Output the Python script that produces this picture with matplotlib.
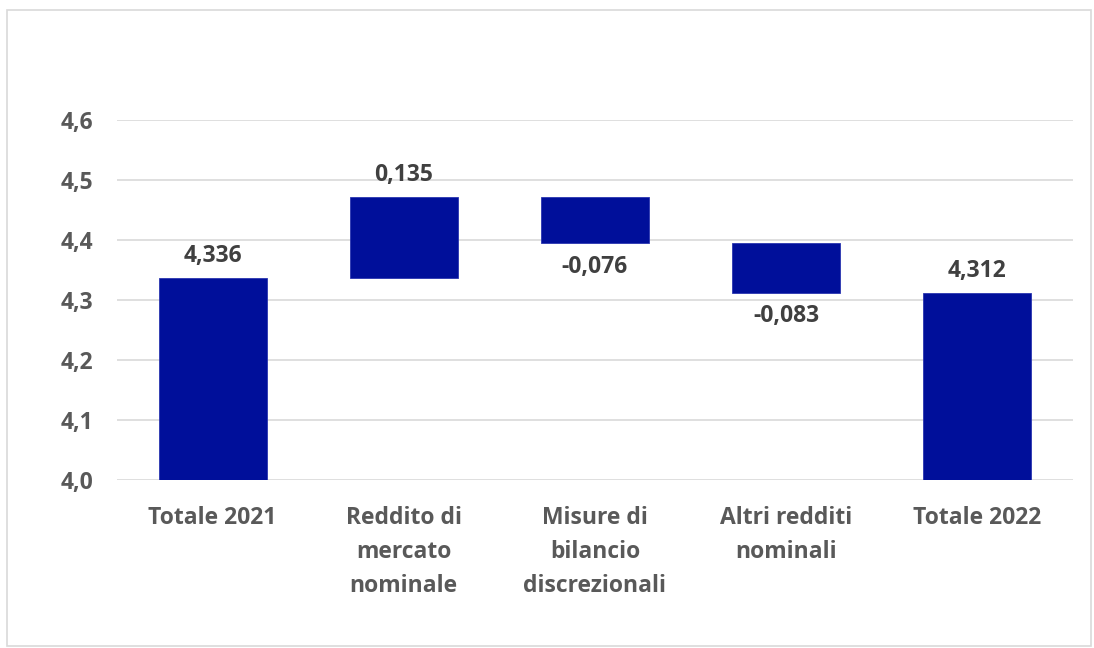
import numpy as np
import matplotlib
matplotlib.use('Agg')
import matplotlib.pyplot as plt
from matplotlib.patches import Rectangle

categorie = ['Totale 2021', 'Reddito di\nmercato\nnominale', 'Misure di\nbilancio\ndiscrezionali',
             'Altri redditi\nnominali', 'Totale 2022']
valori = [4.336, 0.135, -0.076, -0.083, 4.312]
etichette = ['4,336', '0,135', '-0,076', '-0,083', '4,312']
totale = [True, False, False, False, True]

plt.rcParams['font.family'] = ['Open Sans', 'DejaVu Sans']
plt.rcParams['font.weight'] = 'bold'

grigio = '#595959'
blu = '#000F9A'

fig = plt.figure(figsize=(10.94, 6.48), dpi=100)
ax = fig.add_axes([117 / 1094, 1 - 480 / 648, (1073 - 117) / 1094, (480 - 120) / 648])

# waterfall: basi e altezze
basi = []
altezze = []
cum = 0.0
for v, t in zip(valori, totale):
    if t:
        basi.append(0.0)
        altezze.append(v)
        cum = v
    else:
        if v >= 0:
            basi.append(cum)
        else:
            basi.append(cum + v)
        altezze.append(abs(v))
        cum += v

x = np.arange(len(categorie))
ax.bar(x, altezze, bottom=basi, width=0.565, color=blu, edgecolor='#2a35b0', linewidth=0.6, zorder=3)

for i, (v, t) in enumerate(zip(valori, totale)):
    if v >= 0:
        y = basi[i] + altezze[i]
        off = 16
    else:
        y = basi[i]
        off = -17
    ax.annotate(etichette[i], (x[i], y), xytext=(0, off), textcoords='offset points',
                ha='center', va='center', fontsize=16.5, fontweight='bold', color='#404040')

ax.set_ylim(4.0, 4.6)
ax.set_xlim(-0.5, len(categorie) - 0.5)
ax.set_yticks([4.0, 4.1, 4.2, 4.3, 4.4, 4.5, 4.6])
ax.set_yticklabels(['4,0', '4,1', '4,2', '4,3', '4,4', '4,5', '4,6'])
ax.set_xticks(x)
ax.set_xticklabels(categorie, linespacing=1.54)
ax.tick_params(axis='both', length=0, labelsize=16.5, labelcolor=grigio)
ax.tick_params(axis='y', pad=17)
ax.tick_params(axis='x', pad=19)
for lab in ax.get_xticklabels() + ax.get_yticklabels():
    lab.set_fontweight('bold')

ax.grid(axis='y', color='#d9d9d9', linewidth=1.2, zorder=0)
ax.set_axisbelow(True)
for s in ax.spines.values():
    s.set_visible(False)

# bordo del grafico
fig.patches.append(Rectangle((7 / 1094, 2 / 648), 1084 / 1094, 636 / 648, transform=fig.transFigure,
                             fill=False, edgecolor='#d9d9d9', linewidth=1.2))

fig.savefig('out.png', dpi=100)
